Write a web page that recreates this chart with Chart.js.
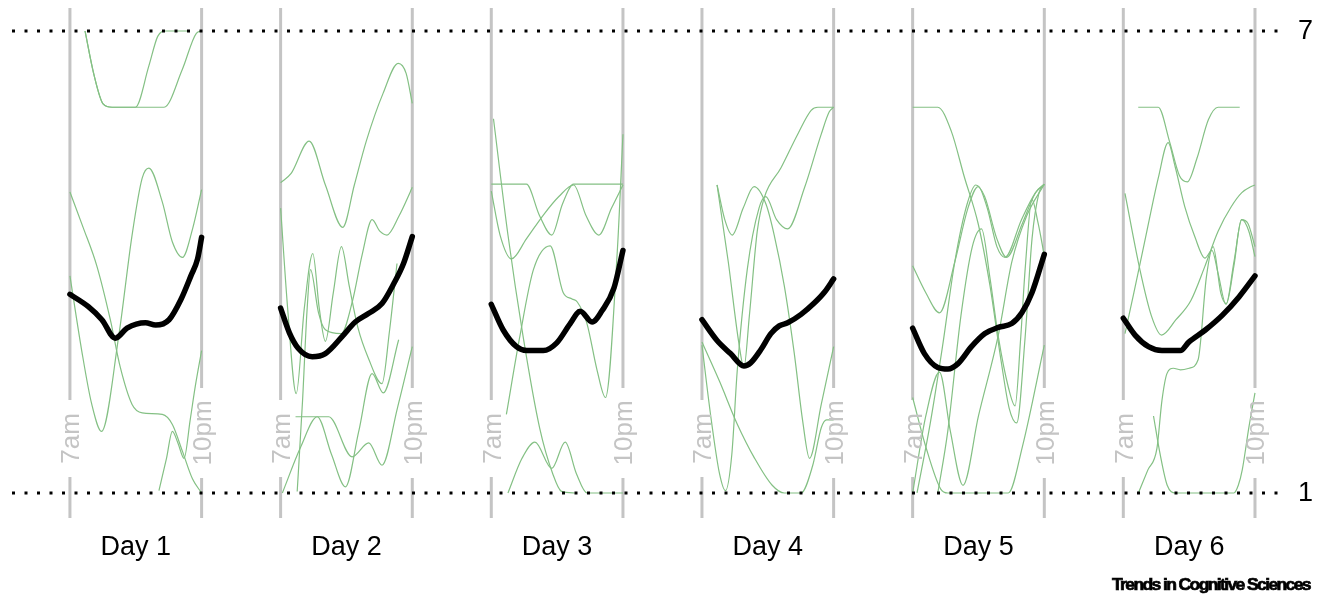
<!DOCTYPE html>
<html>
<head>
<meta charset="utf-8">
<script src="https://cdn.jsdelivr.net/npm/chart.js@4.4.1/dist/chart.umd.min.js"></script>
<style>
  html, body { margin: 0; padding: 0; background: #fff; }
  #wrap { width: 1323px; height: 596px; position: relative; }
</style>
</head>
<body>
<div id="wrap"><canvas id="chart"></canvas></div>
<script>
// Días y horas (eje x continuo en horas: día d -> d*24 + hora)
const dayLabels = ['Day 1', 'Day 2', 'Day 3', 'Day 4', 'Day 5', 'Day 6'];
const hourTicks = [7, 22];
const hourLabels = ['7am', '10pm'];
const scaleLevels = [1, 7];

// Curvas individuales (verde) por día: [hora, valor]
const greenDay1 = [
  [[8.72,7],[9.7,6.45],[10.8,6.05],[11.8,6.01],[14.46,6.01],[16.0,6.55],[17.0,6.93],[17.91,7],[20.4,7]],
  [[8.72,7],[9.7,6.45],[10.8,6.05],[11.8,6.01],[17.72,6.01],[19.8,6.5],[21.4,6.97],[22,7]],
  [[7,4.91],[8.5,4.45],[10.06,3.95],[11.6,3.25],[12.74,2.63],[14.08,2.15],[15.23,2.04],[17.52,2.02],[18.67,1.89],[19.82,1.54],[20.97,1.18],[22,1.0]],
  [[7,3.82],[8.34,2.85],[9.49,2.15],[10.6,1.8],[12.55,3.03],[14.08,4.35],[15.23,5.09],[15.99,5.22],[17.52,4.78],[18.67,4.26],[19.82,4.06],[20.97,4.43],[22,4.94]],
  [[17.14,1.03],[18.0,1.45],[18.67,1.8],[19.3,1.65],[20.0,1.45],[20.7,1.95],[21.3,2.4],[22,2.85]]
];
const greenDay2 = [
  [[7,5.03],[8.2,5.15],[10.25,5.57],[12.1,5.0],[14.08,4.45],[15.4,5.0],[16.76,5.57],[18.67,6.19],[20.4,6.58],[21.3,6.45],[22,6.06]],
  [[7,4.70],[7.8,3.4],[8.78,2.29],[9.7,3.4],[10.67,4.11],[11.4,3.4],[12.1,2.97],[13.0,3.6],[13.93,4.2],[14.8,3.7],[15.8,3.15],[17.0,2.75],[18.55,2.42],[19.4,3.1],[20.26,3.98]],
  [[8.89,1.02],[9.5,2.2],[10.0,3.35],[10.41,3.9],[11.3,3.35],[12.1,3.12],[13.9,3.07],[15.2,3.5],[16.3,4.1],[17.42,4.55],[18.3,4.4],[19.12,4.35],[20.5,4.6],[21.77,4.91],[22,4.97]],
  [[8.70,1.99],[12.49,1.99],[15.14,1.47],[17.04,1.65],[18.55,1.36],[20.3,2.1],[22,2.90]],
  [[7.2,1.0],[9.3,1.6],[11.17,1.99],[12.8,1.5],[14.39,1.08],[15.9,1.8],[17.42,2.55],[18.7,2.3],[20.45,2.99]]
];
const greenDay3 = [
  [[7,5.01],[11.0,5.01],[12.5,4.6],[13.89,4.35],[15.1,4.75],[16.38,5.01],[22,5.01]],
  [[7,4.92],[8.0,4.35],[9.3,4.04],[11.0,4.3],[12.93,4.61],[14.7,4.85],[16.38,5.0],[17.8,4.6],[19.25,4.35],[20.7,4.7],[22,5.0]],
  [[7.25,5.86],[8.9,4.35],[10.6,3.05],[12.5,1.85],[14.0,1.25],[15.0,1.02],[16.5,1.0]],
  [[8.9,1.0],[10.5,1.45],[11.97,1.66],[13.89,1.32],[15.42,1.66],[16.7,1.25],[17.91,1.0],[22,1.0]],
  [[8.72,2.02],[10.2,3.0],[11.8,3.9],[13.7,4.21],[15.2,3.6],[16.2,3.52],[16.8,3.48],[17.9,3.2],[19.06,2.59],[20.01,2.24],[21.35,4.13],[22,5.66]]
];
const greenDay4 = [
  [[8.72,5.0],[9.6,4.55],[10.44,4.35],[11.7,4.7],[12.93,4.98],[14.3,4.75],[15.23,4.35],[16.38,3.69],[17.52,2.81],[18.48,1.93],[19.25,1.45],[20.59,2.15],[22,2.9]],
  [[8.72,5.0],[10.0,4.0],[11.2,2.95],[11.78,2.63],[12.4,3.3],[13.3,4.4],[14.08,4.83],[15.99,5.22],[17.91,5.66],[19.44,5.97],[20.2,6.01],[22,6.01]],
  [[7,2.92],[8.0,2.0],[9.0,1.25],[9.68,1.03],[10.4,1.5],[11.02,2.59],[12.17,3.91],[13.5,4.7],[14.27,4.85],[15.5,4.55],[16.76,4.43],[18.67,4.96],[20.59,5.66],[21.5,5.95],[22,6.01]],
  [[7,2.96],[9.0,2.45],[11.0,1.9],[13.0,1.45],[15.0,1.1],[16.38,1.0],[18.3,1.0],[19.6,1.35],[20.6,1.85],[21.2,1.95],[22,1.95]]
];
const greenDay5 = [
  [[7,6.01],[9.87,6.01],[11.4,5.7],[12.9,5.1],[14.46,4.5],[15.8,3.7],[17.1,2.7],[18.0,2.1],[18.86,1.91],[19.8,3.0],[20.6,4.3],[21.4,4.9],[22,5.01]],
  [[7,3.95],[8.5,3.6],[10.06,3.34],[11.8,4.0],[13.3,4.7],[14.46,4.98],[15.5,4.7],[16.6,4.2],[17.52,4.06],[19.4,4.55],[21.0,4.9],[22,5.01]],
  [[9.87,1.0],[11.0,1.8],[12.5,3.3],[13.8,4.2],[14.85,4.43],[15.8,3.8],[16.76,3.03],[17.91,2.37],[18.67,2.13],[19.3,3.0],[19.82,3.91],[20.59,4.81],[21.3,4.5],[22,4.08]],
  [[7.5,1.0],[9.0,1.9],[10.4,2.9],[11.8,4.0],[13.2,4.75],[14.2,5.0],[15.2,4.85],[16.6,4.3],[17.7,4.06],[19.5,4.5],[21.0,4.9],[22,5.01]],
  [[7,1.0],[8.5,2.0],[10.06,2.57],[11.3,1.8],[12.74,1.1],[14.5,2.0],[16.76,3.05],[18.3,4.0],[20.0,4.6],[22,5.01]],
  [[7,2.24],[8.5,1.6],[10.2,1.05],[11.0,1.0],[17.9,1.0],[19.5,1.6],[22,2.92]]
];
const greenDay6 = [
  [[8.7,6.01],[10.98,6.01],[12.3,5.55],[13.4,5.12],[14.3,5.04],[15.4,5.35],[16.7,5.85],[17.8,6.01],[20.26,6.01]],
  [[7.19,4.89],[8.89,3.9],[10.2,3.3],[11.36,3.05],[13.0,3.25],[14.7,3.5],[16.28,3.94],[17.8,4.4],[19.31,4.72],[20.5,4.9],[21.58,4.98],[22,5.0]],
  [[7.19,3.07],[8.2,3.6],[9.5,4.3],[11.0,5.1],[12.11,5.55],[12.9,5.24],[14.0,4.72],[15.14,4.33],[16.3,4.05],[17.1,4.15],[17.8,3.85],[18.7,3.45],[19.6,4.0],[20.5,4.55],[21.3,4.4],[22,4.07]],
  [[8.72,1.0],[9.8,1.3],[10.83,1.58],[11.4,2.2],[11.97,2.55],[12.7,2.62],[13.5,2.6],[14.5,2.62],[15.52,2.73],[16.47,3.81],[17.23,4.2],[18.1,3.6],[18.74,3.46],[19.6,3.95],[20.45,4.55],[21.2,4.5],[22,4.2]],
  [[10.44,2.0],[11.2,1.5],[12.0,1.1],[12.93,1.0],[19.6,1.0],[20.1,1.1],[20.55,1.3],[21.3,1.85],[22,2.3]]
];
const greenByDay = [greenDay1, greenDay2, greenDay3, greenDay4, greenDay5, greenDay6];

// Media (negra) por día
const meanDay1 = [[7,3.58],[9.1,3.42],[10.64,3.25],[12.17,3.01],[13.5,3.14],[15.6,3.21],[16.76,3.18],[18.29,3.25],[19.63,3.51],[20.78,3.82],[21.54,4.04],[22,4.32]];
const meanDay2 = [[7,3.40],[8.0,3.08],[9.0,2.88],[10.6,2.77],[12.1,2.81],[14.0,3.03],[15.5,3.22],[17.0,3.33],[18.55,3.46],[19.9,3.72],[21.0,3.98],[22,4.33]];
const meanDay3 = [[7,3.45],[8.34,3.12],[9.87,2.9],[11.02,2.85],[12.93,2.85],[14.46,2.95],[15.99,3.2],[17.14,3.36],[18.48,3.22],[19.63,3.37],[20.97,3.66],[22,4.15]];
const meanDay4 = [[7,3.25],[8.72,2.98],[10.25,2.81],[11.78,2.65],[12.55,2.69],[13.7,2.86],[14.85,3.07],[15.8,3.17],[16.76,3.21],[18.29,3.32],[19.82,3.47],[20.97,3.61],[22,3.78]];
const meanDay5 = [[7,3.14],[8.34,2.81],[9.87,2.63],[11.02,2.61],[12.17,2.68],[13.7,2.9],[15.23,3.07],[16.76,3.15],[18.29,3.2],[19.44,3.34],[20.59,3.6],[22,4.1]];
const meanDay6 = [[7,3.27],[8.34,3.05],[9.87,2.9],[11.4,2.85],[13.5,2.85],[14.46,2.96],[16.38,3.12],[18.29,3.31],[20.2,3.55],[22,3.82]];
const meanByDay = [meanDay1, meanDay2, meanDay3, meanDay4, meanDay5, meanDay6];

// Huecos de las líneas grises donde van las etiquetas rotadas
const labelGaps = [[1.208, 2.208], [1.195, 2.364]];

const X_MIN = 0.4, X_MAX = 144.85, Y_MIN = 0.675, Y_MAX = 7.2987;
const GREEN = 'rgb(132,192,132)';
const GREY = '#c4c4c4';
const FONT = '"Liberation Sans", Arial, sans-serif';

const toPts = (curve, d) => curve.map(([h, v]) => ({ x: d * 24 + h, y: v }));

const datasets = [];

// medias
meanByDay.forEach((curve, d) => {
  datasets.push({ data: toPts(curve, d), borderColor: '#000', borderWidth: 5.5,
    cubicInterpolationMode: 'monotone', pointRadius: 0,
    borderCapStyle: 'round', borderJoinStyle: 'round', order: 0 });
});

// líneas punteadas en 1 y 7
scaleLevels.forEach(lv => {
  datasets.push({ data: [{ x: X_MIN, y: lv }, { x: X_MAX, y: lv }], borderColor: '#000', borderWidth: 3,
    borderDash: [3, 9.5], pointRadius: 0, order: 1 });
});

// individuales
greenByDay.forEach((curves, d) => {
  curves.forEach(curve => {
    datasets.push({ data: toPts(curve, d), borderColor: GREEN, borderWidth: 1.2,
      cubicInterpolationMode: 'monotone', pointRadius: 0, order: 2 });
  });
});

// líneas verticales grises 7am / 10pm
dayLabels.forEach((_, d) => {
  hourTicks.forEach((h, i) => {
    const x = d * 24 + h;
    const [g0, g1] = labelGaps[i];
    datasets.push({ data: [{ x, y: Y_MIN }, { x, y: g0 }, { x, y: null }, { x, y: g1 }, { x, y: Y_MAX }],
      borderColor: GREY, borderWidth: 3, pointRadius: 0, spanGaps: false, order: 3 });
  });
});

// Textos
const textPlugin = {
  id: 'textos',
  afterDraw(chart) {
    const { ctx, chartArea, scales: { x, y } } = chart;
    ctx.save();

    // etiquetas rotadas 7am / 10pm
    ctx.fillStyle = GREY;
    ctx.font = `26px ${FONT}`;
    ctx.textAlign = 'center';
    ctx.textBaseline = 'alphabetic';
    dayLabels.forEach((_, d) => {
      hourTicks.forEach((h, i) => {
        const px = x.getPixelForValue(d * 24 + h);
        const py = y.getPixelForValue((labelGaps[i][0] + labelGaps[i][1]) / 2);
        ctx.save();
        ctx.translate(px, py);
        ctx.rotate(-Math.PI / 2);
        ctx.fillText(hourLabels[i], 0, 9.3);
        ctx.restore();
      });
    });

    // Day N
    ctx.fillStyle = '#000';
    ctx.font = `27px ${FONT}`;
    dayLabels.forEach((lab, d) => {
      const px = x.getPixelForValue(d * 24 + (hourTicks[0] + hourTicks[1]) / 2);
      ctx.fillText(lab, px, chartArea.bottom + 37);
    });

    // 7 y 1 a la derecha
    ctx.textAlign = 'left';
    ctx.textBaseline = 'middle';
    scaleLevels.forEach(lv => {
      ctx.fillText(String(lv), chartArea.right + 18, y.getPixelForValue(lv) + 1);
    });

    // crédito
    ctx.font = `bold 17px ${FONT}`;
    ctx.letterSpacing = '-1.6px';
    ctx.textBaseline = 'alphabetic';
    ctx.textAlign = 'left';
    const credit = 'Trends in Cognitive Sciences';
    const w = ctx.measureText(credit).width;
    ctx.translate(1112, 590);
    ctx.scale(198 / w, 1);
    ctx.lineWidth = 0.7;
    ctx.strokeStyle = '#000';
    ctx.strokeText(credit, 0, 0);
    ctx.fillText(credit, 0, 0);
    ctx.restore();
  }
};

new Chart(document.getElementById('chart'), {
  type: 'line',
  data: { datasets },
  options: {
    responsive: true,
    maintainAspectRatio: false,
    animation: false,
    events: [],
    layout: { padding: { left: 12, right: 43, top: 8, bottom: 78 } },
    scales: {
      x: { type: 'linear', min: X_MIN, max: X_MAX, display: false },
      y: { type: 'linear', min: Y_MIN, max: Y_MAX, display: false }
    },
    plugins: { legend: { display: false }, tooltip: { enabled: false } }
  },
  plugins: [textPlugin]
});
</script>
</body>
</html>
